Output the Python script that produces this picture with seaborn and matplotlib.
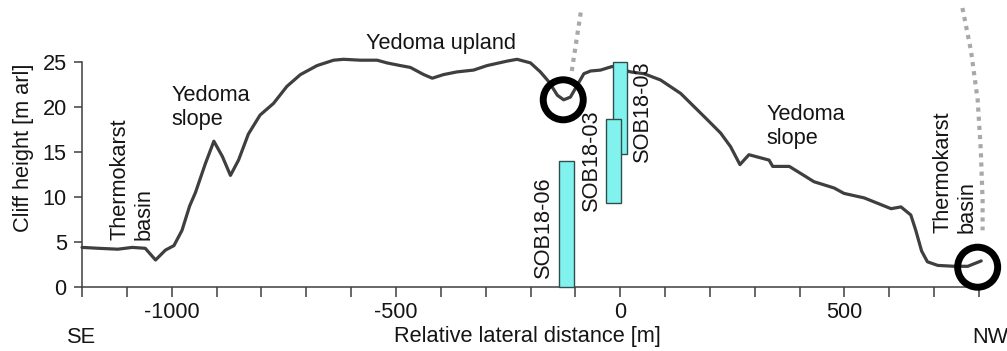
import numpy as np
import pandas as pd
import matplotlib
matplotlib.use("Agg")
import matplotlib.pyplot as plt
from matplotlib.ticker import MultipleLocator
import seaborn as sns

# ---- data ----
distance = [-1200, -1163, -1120, -1088, -1059, -1036, -1014, -995, -977, -960, -947,
            -925, -906, -887, -869, -851, -829, -803, -773, -743, -713, -676, -639,
            -617, -579, -542, -520, -490, -468, -438, -419, -394, -364, -327, -297,
            -252, -230, -200, -178, -159, -140, -126, -111, -96, -81, -66, -44, -18,
            23, 53, 90, 135, 194, 224, 246, 267, 287, 317, 332, 340, 377, 403, 432,
            477, 499, 544, 604, 626, 648, 659, 672, 685, 708, 745, 775, 805]
height = [4.4, 4.3, 4.2, 4.4, 4.3, 3.0, 4.1, 4.6, 6.3, 9.0, 10.5,
          13.7, 16.2, 14.5, 12.4, 14.1, 17.0, 19.1, 20.4, 22.3, 23.6, 24.6, 25.2,
          25.3, 25.2, 25.2, 24.9, 24.6, 24.4, 23.6, 23.2, 23.6, 23.9, 24.1, 24.6,
          25.1, 25.3, 24.9, 23.9, 22.8, 21.3, 20.8, 21.1, 22.4, 23.7, 24.0, 24.1, 24.5,
          23.9, 23.7, 23.0, 21.5, 18.6, 17.1, 15.6, 13.6, 14.7, 14.3, 14.1, 13.4, 13.4, 12.6, 11.7,
          11.0, 10.4, 9.9, 8.7, 8.9, 8.0, 6.3, 4.0, 2.8, 2.4, 2.3, 2.3, 2.9]

core_names = ["SOB18-03", "SOB18-03", "SOB18-06"]
core_x = [-0.5, -15, -120]
core_width = [33, 34, 35]
core_bottom = [14.8, 9.3, 0.0]
core_top = [25.0, 18.7, 14.0]

circle_x = [-127, 797]
circle_y = [20.8, 2.2]

dotted1_x = [-108, -88]
dotted1_y = [24.0, 30.5]
dotted2_x = [763, 782, 797, 804, 808, 808]
dotted2_y = [31.0, 26.3, 20.8, 15.2, 9.7, 6.3]

xtick_major = [-1000, -500, 0, 500]
ytick_vals = [0, 5, 10, 15, 20, 25]

# ---- style ----
sns.set_theme(style="white")
plt.rcParams['font.family'] = ['Liberation Sans', 'DejaVu Sans']
TXT = "#151515"
plt.rcParams['text.color'] = TXT
plt.rcParams['axes.labelcolor'] = TXT
plt.rcParams['xtick.color'] = TXT
plt.rcParams['ytick.color'] = TXT
FS = 15.7
DARK = "#3f3f3f"

fig = plt.figure(figsize=(10.07, 3.51), dpi=100)
ax = fig.add_axes([82/1007, 64/351, 897/1007, 225/351])

prof = pd.DataFrame({"d": distance, "h": height})
sns.lineplot(data=prof, x="d", y="h", sort=False, estimator=None, color=DARK,
             linewidth=2.3, ax=ax, clip_on=False, zorder=3)

# dotted guide lines
for dx, dy in [(dotted1_x, dotted1_y), (dotted2_x, dotted2_y)]:
    ax.plot(dx, dy, color="#a8a8a8", linewidth=3.0, linestyle=(0, (1, 1.2)),
            clip_on=False, zorder=2)

# core bars
for i in range(len(core_names)):
    ax.bar(core_x[i], core_top[i] - core_bottom[i], width=core_width[i],
           bottom=core_bottom[i], color="#82f2ee", edgecolor="#2f4f4f",
           linewidth=1.0, zorder=4 + i, clip_on=False)

# circles
circ = pd.DataFrame({"x": circle_x, "y": circle_y})
sns.scatterplot(data=circ, x="x", y="y", ax=ax, marker="o", s=830,
                facecolor="none", edgecolor="black", linewidth=5.0,
                clip_on=False, zorder=10)

# labels of cores
ax.text(-148, 1.0, core_names[2], rotation=90, ha="right", va="bottom", fontsize=FS)
ax.text(-40, 8.4, core_names[1], rotation=90, ha="right", va="bottom", fontsize=FS)
ax.text(27, 13.9, core_names[0], rotation=90, ha="left", va="bottom", fontsize=FS)

# landscape annotations
ax.text(-399, 27.0, "Yedoma upland", ha="center", va="center", fontsize=FS, clip_on=False)
ax.text(-1000, 22.4, "Yedoma\nslope", ha="left", va="top", fontsize=FS, linespacing=1.15)
ax.text(327, 20.3, "Yedoma\nslope", ha="left", va="top", fontsize=FS, linespacing=1.15)
ax.text(-1138, 5.2, "Thermokarst\nbasin", rotation=90, ha="left", va="bottom",
        fontsize=FS, linespacing=1.15)
ax.text(697, 6.0, "Thermokarst\nbasin", rotation=90, ha="left", va="bottom",
        fontsize=FS, linespacing=1.15)
ax.text(-1233, -5.6, "SE", ha="left", va="center", fontsize=FS, clip_on=False)
ax.text(786, -5.6, "NW", ha="left", va="center", fontsize=FS, clip_on=False)

# axes
ax.set_xlim(-1200, 800)
ax.set_ylim(0, 25)
ax.set_xticks(xtick_major)
ax.set_xticklabels([str(v) for v in xtick_major])
ax.xaxis.set_minor_locator(MultipleLocator(100))
ax.set_yticks(ytick_vals)
ax.set_yticklabels([str(v) for v in ytick_vals])
ax.tick_params(axis="x", which="both", direction="out", length=7, width=1.1,
               color=DARK, labelcolor=TXT, labelsize=FS, pad=4, bottom=True)
ax.tick_params(axis="y", which="both", direction="out", length=6, width=1.1,
               color=DARK, labelcolor=TXT, labelsize=FS, pad=5, left=True)
ax.set_xlabel("Relative lateral distance [m]", fontsize=FS, color=TXT)
ax.set_ylabel("Cliff height [m arl]", fontsize=FS, color=TXT)
ax.xaxis.set_label_coords(0.497, -0.175)
ax.yaxis.set_label_coords(-0.053, 0.62)
for s in ["top", "right"]:
    ax.spines[s].set_visible(False)
for s in ["left", "bottom"]:
    ax.spines[s].set_color(DARK)
    ax.spines[s].set_linewidth(1.1)
ax.patch.set_alpha(0)

fig.savefig("out.png", dpi=100)
